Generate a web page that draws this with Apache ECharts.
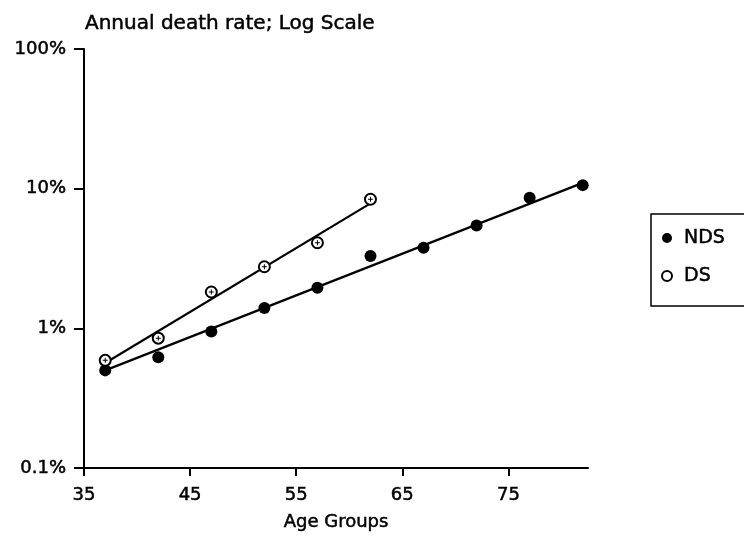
<!DOCTYPE html>
<html>
<head>
<meta charset="utf-8">
<script src="https://cdn.jsdelivr.net/npm/echarts@6/dist/echarts.min.js"></script>
<style>
  html, body { margin: 0; padding: 0; background: #fff; }
  #chart { width: 744px; height: 546px; }
</style>
</head>
<body>
<div id="chart"></div>
<script>
// age groups and annual death rates (percent)
var ndsAges = [37, 42, 47, 52, 57, 62, 67, 72, 77, 82];
var ndsRates = [0.50, 0.62, 0.95, 1.40, 1.95, 3.3, 3.78, 5.45, 8.6, 10.6];
var dsAges = [37, 42, 47, 52, 57, 62];
var dsRates = [0.59, 0.85, 1.82, 2.76, 4.1, 8.4];

// fitted lines, end points
var ndsFitAges = [37, 82];
var ndsFitRates = [0.50, 11.0];
var dsFitAges = [37, 62];
var dsFitRates = [0.565, 7.85];

var xTicks = [35, 45, 55, 65, 75];

function pairs(xs, ys) {
  var out = [];
  for (var i = 0; i < xs.length; i++) out.push([xs[i], ys[i]]);
  return out;
}

var font = 'DejaVu Sans';
// the scanned text is a bit heavier than a plain regular face
var ink = { color: '#000', textBorderColor: '#000', textBorderWidth: 0.5 };
var chart = echarts.init(document.getElementById('chart'));

var option = {
  backgroundColor: '#fff',
  animation: false,
  title: {
    text: 'Annual death rate; Log Scale',
    left: 80,
    top: 9,
    textStyle: Object.assign({ fontFamily: font, fontSize: 20, fontWeight: 'normal' }, ink)
  },
  legend: {
    orient: 'vertical',
    left: 651,
    top: 214,
    data: ['NDS', 'DS'],
    itemWidth: 24,
    itemHeight: 10,
    itemGap: 18,
    padding: [14, 40, 20, 10],
    borderColor: '#000',
    borderWidth: 1.5,
    textStyle: Object.assign({ fontFamily: font, fontSize: 19, lineHeight: 20 }, ink)
  },
  grid: { left: 84, right: 156, top: 49, bottom: 78 },
  xAxis: {
    type: 'value',
    min: 35,
    max: 82.5,
    interval: 10,
    name: 'Age Groups',
    nameLocation: 'middle',
    nameGap: 45,
    nameTextStyle: Object.assign({ fontFamily: font, fontSize: 18 }, ink),
    axisLine: { lineStyle: { color: '#000', width: 2 } },
    axisTick: { length: 8, customValues: xTicks, lineStyle: { color: '#000', width: 2 } },
    axisLabel: Object.assign({
      customValues: xTicks,
      margin: 18,
      fontFamily: font, fontSize: 18
    }, ink),
    splitLine: { show: false }
  },
  yAxis: {
    type: 'log',
    logBase: 10,
    min: 0.1,
    max: 100,
    axisLine: { show: true, lineStyle: { color: '#000', width: 2 } },
    axisTick: { show: true, length: 10, lineStyle: { color: '#000', width: 2 } },
    axisLabel: Object.assign({
      margin: 18,
      fontFamily: font, fontSize: 18,
      formatter: function (v) { return +v.toPrecision(3) + '%'; }
    }, ink),
    minorTick: { show: false },
    splitLine: { show: false }
  },
  series: [
    {
      name: 'NDS fit',
      type: 'line',
      data: pairs(ndsFitAges, ndsFitRates),
      symbol: 'none',
      lineStyle: { color: '#000', width: 2.2 },
      z: 1
    },
    {
      name: 'DS fit',
      type: 'line',
      data: pairs(dsFitAges, dsFitRates),
      symbol: 'none',
      lineStyle: { color: '#000', width: 2.2 },
      z: 1
    },
    {
      name: 'NDS',
      type: 'scatter',
      data: pairs(ndsAges, ndsRates),
      symbol: 'circle',
      symbolSize: 12,
      itemStyle: { color: '#000', opacity: 1 },
      z: 3
    },
    {
      name: 'DS',
      type: 'scatter',
      data: pairs(dsAges, dsRates),
      symbol: 'circle',
      symbolSize: 11,
      itemStyle: { color: '#fff', borderColor: '#000', borderWidth: 2, opacity: 1 },
      z: 3
    },
    {
      // small mark inside the open DS circles
      name: 'DS inner',
      type: 'scatter',
      data: pairs(dsAges, dsRates),
      symbol: 'path://M2,0 L3,0 L3,2 L5,2 L5,3 L3,3 L3,5 L2,5 L2,3 L0,3 L0,2 L2,2 Z',
      symbolSize: 5,
      itemStyle: { color: '#000', opacity: 1 },
      silent: true,
      z: 4
    }
  ]
};

chart.setOption(option);
</script>
</body>
</html>
